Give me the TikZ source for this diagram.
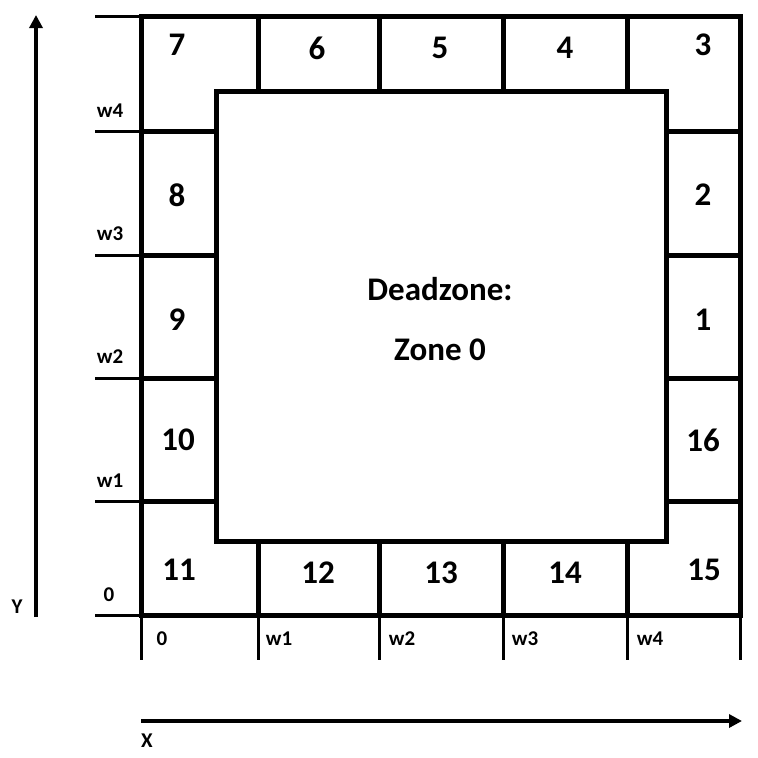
\documentclass[tikz,border=0pt]{standalone}
\usepackage{fontspec}
\setmainfont{Carlito}
\usetikzlibrary{arrows.meta}
\tikzset{
  thick line/.style={line width=5pt},
  tick line/.style={line width=3pt},
  axis/.style={line width=3.5pt,-{Triangle[length=13pt,width=13pt]}},
  zone/.style={font=\fontsize{33}{34}\selectfont\bfseries},
  mark label/.style={font=\fontsize{21}{22}\selectfont\bfseries}
}
\begin{document}
\begin{tikzpicture}[x=1pt,y=-1pt]
\useasboundingbox (0,0) rectangle (758,758);
\draw[thick line] (141,16) rectangle (740,615);
\draw[thick line] (216,91) rectangle (666,541);
\foreach \y in {131,255,378,501}
  {\draw[thick line] (141,\y) -- (216,\y);
   \draw[thick line] (666,\y) -- (740,\y);
   \draw[tick line] (95,\y) -- (141,\y);}
\foreach \x in {258,379,503,627}
  {\draw[thick line] (\x,16) -- (\x,91);
   \draw[thick line] (\x,541) -- (\x,615);}
\draw[tick line] (95,16) -- (141,16);
\draw[tick line] (95,615) -- (141,615);
\foreach \x in {141,258,379,503,627,740}
  \draw[tick line] (\x,615) -- (\x,660);
\coordinate (x start) at (141,721);
\coordinate (x end) at (742,721);
\coordinate (y start) at (36,617);
\coordinate (y end) at (36,15);
\draw[axis] (x start) -- (x end);
\draw[axis] (y start) -- (y end);
\node[mark label] (x label) at (147,741) {X};
\node[mark label] (y label) at (17,607) {Y};
\node[zone] (z7) at (177,45) {7};
\node[zone] (z6) at (317,48) {6};
\node[zone] (z5) at (440,48) {5};
\node[zone] (z4) at (565,48) {4};
\node[zone] (z3) at (703,45) {3};
\node[zone] (z8) at (177,195) {8};
\node[zone] (z2) at (703,195) {2};
\node[zone] (z9) at (177,320) {9};
\node[zone] (z1) at (703,320) {1};
\node[zone] (z10) at (178,440) {10};
\node[zone] (z16) at (703,440) {16};
\node[zone] (z11) at (179,570) {11};
\node[zone] (z12) at (318,573) {12};
\node[zone] (z13) at (441,573) {13};
\node[zone] (z14) at (565,573) {14};
\node[zone] (z15) at (704,570) {15};
\node[zone] (dead) at (440,289) {Deadzone:};
\node[zone] (zero) at (440,350) {Zone 0};
\node[mark label] (yw4) at (110,111) {w4};
\node[mark label] (yw3) at (110,234) {w3};
\node[mark label] (yw2) at (110,357) {w2};
\node[mark label] (yw1) at (110,481) {w1};
\node[mark label] (y0) at (109,595) {0};
\node[mark label] (x0) at (162,639) {0};
\node[mark label] (xw1) at (279,639) {w1};
\node[mark label] (xw2) at (402,639) {w2};
\node[mark label] (xw3) at (525,639) {w3};
\node[mark label] (xw4) at (650,639) {w4};
\end{tikzpicture}
\end{document}
